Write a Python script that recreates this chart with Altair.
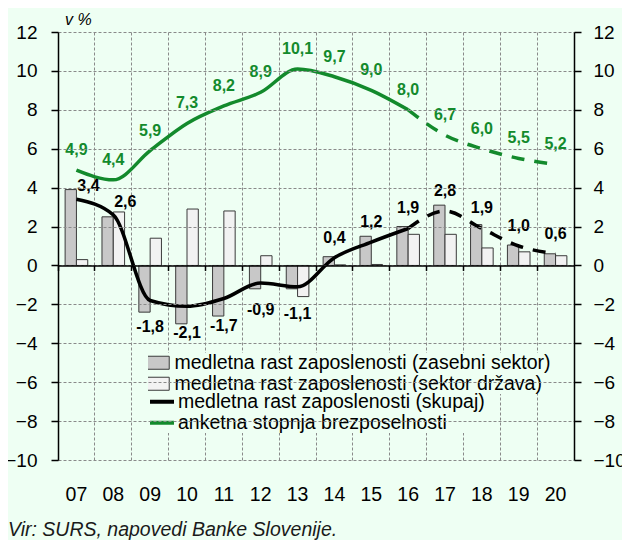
import altair as alt
import pandas as pd

# ---------------- data ----------------
years = ["07", "08", "09", "10", "11", "12", "13", "14", "15", "16", "17", "18", "19", "20"]
private_growth = [3.9, 2.5, -2.4, -3.0, -2.6, -1.2, -1.2, 0.45, 1.5, 2.0, 3.1, 2.1, 1.05, 0.6]
state_growth = [0.3, 2.75, 1.4, 2.9, 2.8, 0.5, -1.6, 0.03, 0.05, 1.6, 1.6, 0.9, 0.7, 0.5]
total_growth = [3.4, 2.6, -1.8, -2.1, -1.7, -0.9, -1.1, 0.4, 1.2, 1.9, 2.8, 1.9, 1.0, 0.6]
unemployment = [4.9, 4.4, 5.9, 7.3, 8.2, 8.9, 10.1, 9.7, 9.0, 8.0, 6.7, 6.0, 5.5, 5.2]
last_actual_year = "16"
shifted_label_years = ["07", "08"]

S_PRIV = "medletna rast zaposlenosti (zasebni sektor)"
S_STATE = "medletna rast zaposlenosti (sektor država)"
S_TOTAL = "medletna rast zaposlenosti (skupaj)"
S_UNEMP = "anketna stopnja brezposelnosti"
y_ticks = list(range(-10, 13, 2))
unit_text = "v %"
source_text = "Vir: SURS, napovedi Banke Slovenije."

# ---------------- style ----------------
BG = "#EEFFF3"
GREEN = "#138A2C"
FONT = "Liberation Sans, Arial, sans-serif"
GRID = "#8a8a8a"
W, H = 516, 428
Y_MIN, Y_MAX = -10, 12
LEG_FS = 19.5
ROW = 19.5


def fmt(v):
    return f"{v:.1f}".replace(".", ",")


bars_df = pd.DataFrame(
    [{"year": y, "series": S_PRIV, "value": v} for y, v in zip(years, private_growth)]
    + [{"year": y, "series": S_STATE, "value": v} for y, v in zip(years, state_growth)]
)

rows = []
cut = years.index(last_actual_year)
for name, vals in [(S_TOTAL, total_growth), (S_UNEMP, unemployment)]:
    for i, (y, v) in enumerate(zip(years, vals)):
        rows.append({"year": y, "series": name, "value": v, "label": fmt(v),
                     "solid": i <= cut, "dashed": i >= cut})
lines_df = pd.DataFrame(rows)
solid_df = lines_df[lines_df["solid"]]
dashed_df = lines_df[lines_df["dashed"]]
green_lab = lines_df[lines_df["series"] == S_UNEMP]
black_lab = lines_df[lines_df["series"] == S_TOTAL]
black_shift = black_lab[black_lab["year"].isin(shifted_label_years)]
black_rest = black_lab[~black_lab["year"].isin(shifted_label_years)]
black_pos = black_rest[black_rest["value"] >= 0]
black_neg = black_rest[black_rest["value"] < 0]

xscale = alt.Scale(domain=years, paddingInner=0, paddingOuter=0)
yscale = alt.Scale(domain=[Y_MIN, Y_MAX], nice=False, zero=False)
fill_scale = alt.Scale(domain=[S_PRIV, S_STATE], range=["#C8C8C8", "#F2F2F2"])
stroke_scale = alt.Scale(domain=[S_TOTAL, S_UNEMP], range=["#000000", GREEN])

leg_common = dict(
    title=None, orient="none", direction="vertical", legendX=90, padding=0,
    labelFont=FONT, labelFontSize=LEG_FS, labelColor="black", labelLimit=0,
    fillColor=BG, rowPadding=0, clipHeight=ROW, symbolOpacity=1,
)
legend_bars = alt.Legend(
    legendY=321, symbolType="M-1.64,-0.93H1.64V0.93H-1.64Z", symbolSize=196,
    symbolStrokeColor="#3a3a3a", symbolStrokeWidth=1, labelOffset=7, **leg_common,
)
legend_lines = alt.Legend(
    legendY=321 + 2 * ROW, symbolType="stroke", symbolSize=576, symbolStrokeWidth=4,
    labelOffset=2, labelExpr="datum.label + '" + "\u00a0" * 17 + "'", **leg_common,
)

axis_font = dict(labelFont=FONT, labelFontSize=19, labelColor="black")

# bars: vertical grid at band boundaries + left y axis with grid
bars = alt.Chart(bars_df).mark_bar(stroke="#3a3a3a", strokeWidth=1).encode(
    x=alt.X("year:N", scale=xscale, sort=years,
            axis=alt.Axis(title=None, labels=False, ticks=False, domain=False, grid=True,
                          gridColor=GRID, gridDash=[3, 2], gridWidth=1, bandPosition=0)),
    xOffset=alt.XOffset("series:N", sort=[S_PRIV, S_STATE],
                        scale=alt.Scale(domain=[S_PRIV, S_STATE], paddingInner=0, paddingOuter=0.63)),
    y=alt.Y("value:Q", scale=yscale,
            axis=alt.Axis(title=None, orient="left", values=y_ticks, grid=True, gridColor=GRID,
                          gridDash=[3, 2], gridWidth=1, domain=True, domainColor="black",
                          domainWidth=1.5, ticks=True, tickColor="black", tickWidth=1.5,
                          tickSize=7, labelPadding=14, labelOverlap=False, labelFlush=False,
                          zindex=1, **axis_font)),
    fill=alt.Fill("series:N", scale=fill_scale, legend=legend_bars),
)

# solid part of lines: carries x labels axis and right y axis
solid = alt.Chart(solid_df).mark_line(strokeWidth=3.5, interpolate="monotone", strokeCap="butt").encode(
    x=alt.X("year:N", scale=xscale, sort=years,
            axis=alt.Axis(title=None, orient="bottom", ticks=False, domain=False, grid=False,
                          labelAngle=0, labelPadding=25, labelFont=FONT, labelFontSize=19.5,
                          labelColor="black")),
    y=alt.Y("value:Q", scale=yscale,
            axis=alt.Axis(title=None, orient="right", values=y_ticks, grid=False, domain=True,
                          domainColor="black", domainWidth=1.5, ticks=True, tickColor="black",
                          tickWidth=1.5, tickSize=7, labelPadding=12, labelOverlap=False,
                          labelFlush=False, zindex=1, **axis_font)),
    stroke=alt.Stroke("series:N", scale=stroke_scale, legend=legend_lines),
)

# dashed (forecast) part: carries the zero line with ticks at the band boundaries
dashed = alt.Chart(dashed_df).mark_line(strokeWidth=3.5, interpolate="monotone",
                                        strokeDash=[13, 10], strokeCap="butt").encode(
    x=alt.X("year:N", scale=xscale, sort=years,
            axis=alt.Axis(title=None, orient="bottom", labels=False, grid=False, domain=True,
                          domainColor="black", domainWidth=1.5, ticks=True, tickColor="black",
                          tickWidth=1.5, tickSize=5, bandPosition=0,
                          offset=-H * (0 - Y_MIN) / (Y_MAX - Y_MIN), zindex=1)),
    y=alt.Y("value:Q", scale=yscale, axis=None),
    stroke=alt.Stroke("series:N", scale=stroke_scale),
)

lab_style = dict(font=FONT, fontSize=16, fontWeight="bold")


def labels(df, color, dx=0, dy=0):
    return alt.Chart(df).mark_text(color=color, dx=dx, dy=dy, **lab_style).encode(
        x=alt.X("year:N", scale=xscale, sort=years, axis=None),
        y=alt.Y("value:Q", scale=yscale, axis=None),
        text="label:N",
    )


green_labels = labels(green_lab, GREEN, dy=-20)
black_labels_shift = labels(black_shift, "black", dx=12, dy=-13)
black_labels_pos = labels(black_pos, "black", dy=-20)
black_labels_neg = labels(black_neg, "black", dy=27)

unit = alt.Chart(pd.DataFrame({"t": [unit_text]})).mark_text(
    font=FONT, fontSize=16, fontStyle="italic", align="left", baseline="alphabetic", color="black"
).encode(x=alt.value(7), y=alt.value(-7), text="t:N")

source = alt.Chart(pd.DataFrame({"t": [source_text]})).mark_text(
    font=FONT, fontSize=19.5, fontStyle="italic", align="left", baseline="alphabetic", color="#1a1a1a"
).encode(x=alt.value(-50), y=alt.value(H + 76), text="t:N")

chart = alt.layer(
    bars, solid, dashed, green_labels, black_labels_shift, black_labels_pos, black_labels_neg,
    unit, source,
).resolve_axis(x="independent", y="independent").properties(
    width=W, height=H, background=BG,
    padding={"left": 50, "top": 24, "right": 48, "bottom": 88},
    autosize=alt.AutoSizeParams(type="none"),
).configure_view(strokeWidth=0)

chart.save("out.html", embed_options={"renderer": "svg", "actions": False})
